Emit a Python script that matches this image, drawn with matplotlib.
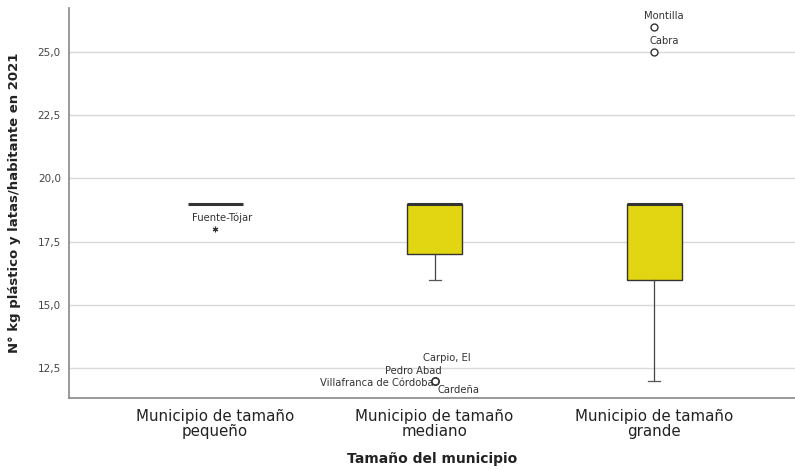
import matplotlib.pyplot as plt
from matplotlib.ticker import FuncFormatter

# Resumen de cada grupo (cuartiles, bigotes y atipicos)
grupos = ['Municipio de tamaño\npequeño', 'Municipio de tamaño\nmediano', 'Municipio de tamaño\ngrande']
q1      = [19.0, 17.0, 16.0]
mediana = [19.0, 19.0, 19.0]
q3      = [19.0, 19.0, 19.0]
bigote_inf = [19.0, 16.0, 12.0]
bigote_sup = [19.0, 19.0, 19.0]

# Extremos (*) y atipicos (o): (grupo, valor, nombre)
extremos = [(1, 18.0, 'Fuente-Tójar')]
atipicos = [(2, 12.0, 'Villafranca de Córdoba'), (2, 12.0, 'Pedro Abad'),
            (2, 12.0, 'Carpio, El'), (2, 12.0, 'Cardeña'),
            (3, 25.0, 'Cabra'), (3, 26.0, 'Montilla')]

color_caja = '#e2d511'

fig = plt.figure(figsize=(7.95, 4.70), dpi=100)
ax = fig.add_axes([0.087, 0.153, 0.913, 0.830])

stats = []
for i in range(len(grupos)):
    stats.append(dict(q1=q1[i], med=mediana[i], q3=q3[i],
                      whislo=bigote_inf[i], whishi=bigote_sup[i], fliers=[]))

bp = ax.bxp(stats, positions=[1, 2, 3], widths=0.25, patch_artist=True,
            showfliers=False, zorder=3,
            boxprops=dict(facecolor=color_caja, edgecolor='#333333', linewidth=1.0),
            medianprops=dict(color='#333333', linewidth=2.2),
            whiskerprops=dict(color='#444444', linewidth=0.9),
            capprops=dict(color='#555555', linewidth=0.9))
for c in bp['caps']:
    c.set_xdata([c.get_xdata()[0] + 0.035, c.get_xdata()[1] - 0.035])

# Grupo pequeño: todos los valores iguales, solo se ve la mediana
for c in bp['caps'][:2] + bp['whiskers'][:2]:
    c.set_visible(False)
bp['boxes'][0].set_visible(False)

for g, v, nombre in extremos:
    ax.plot(g, v, marker=(6, 2, 0), color='#333333', ms=4, mew=0.8, zorder=4)
    ax.annotate(nombre, (g, v), xytext=(-16.5, 8), textcoords='offset points',
                fontsize=7.2, color='#333333', ha='left', va='center')

for g, v, nombre in atipicos:
    ax.plot(g, v, 'o', mfc='white', mec='#333333', ms=5, mew=1.0, zorder=4)

# desplazamiento de cada etiqueta en puntos
desp = {'Villafranca de Córdoba': (-1, -1.5, 'right'),
        'Pedro Abad': (5, 7, 'right'),
        'Carpio, El': (-8.5, 16.5, 'left'),
        'Cardeña': (2, -6.5, 'left'),
        'Cabra': (-3, 8, 'left'),
        'Montilla': (-7, 8, 'left')}
for g, v, nombre in atipicos:
    dx, dy, ha = desp[nombre]
    ax.annotate(nombre, (g, v), xytext=(dx, dy), textcoords='offset points',
                fontsize=7.2, color='#333333', ha=ha, va='center')

ax.set_xlim(0.335, 3.642)
ax.set_ylim(11.31, 26.74)
ax.set_yticks([12.5, 15.0, 17.5, 20.0, 22.5, 25.0])
ax.yaxis.set_major_formatter(FuncFormatter(lambda y, p: f'{y:.1f}'.replace('.', ',')))
ax.set_xticks([1, 2, 3])
ax.set_xticklabels(grupos, fontsize=10.8, color='#222222', linespacing=0.95)
ax.tick_params(axis='y', labelsize=7.5, labelcolor='#444444', length=0, pad=6)
ax.tick_params(axis='x', length=0, pad=8)

ax.grid(axis='y', color='#d9d9d9', linewidth=1.0, zorder=0)
ax.set_axisbelow(True)
for s in ['top', 'right']:
    ax.spines[s].set_visible(False)
for s in ['left', 'bottom']:
    ax.spines[s].set_color('#888888')
    ax.spines[s].set_linewidth(1.2)

ax.set_xlabel('Tamaño del municipio', fontsize=10, fontweight='bold', color='#222222', labelpad=10)
ax.set_ylabel('N° kg plástico y latas/habitante en 2021', fontsize=9.5, fontweight='bold',
              color='#222222', labelpad=12)

fig.savefig('out.png', dpi=100)
